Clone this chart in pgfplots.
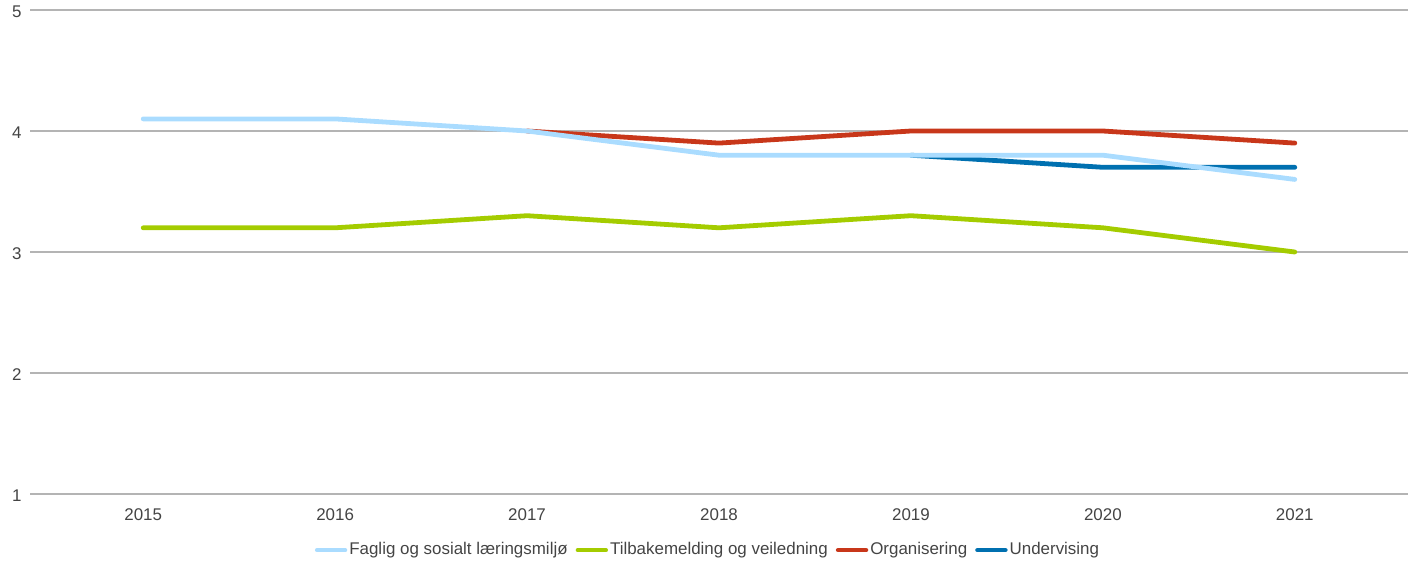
\documentclass[border=0pt]{standalone}
\usepackage{pgfplots}
\pgfplotsset{compat=1.18}
\usepackage{fontspec}
\setmainfont{Liberation Sans}

\definecolor{faglig}{HTML}{AADCFF}
\definecolor{tilbake}{HTML}{A4CC00}
\definecolor{organ}{HTML}{C8371A}
\definecolor{underv}{HTML}{0070B0}
\definecolor{gridgray}{HTML}{B4B4B4}
\definecolor{txt}{HTML}{444444}

\begin{document}
\begin{tikzpicture}
  \useasboundingbox (-15bp,-35.5bp) rectangle (692.5bp,247bp);
  \begin{axis}[
      scale only axis,
      width=689bp, height=242bp,
      at={(0,0)}, anchor=south west,
      xmin=-0.59, xmax=6.59,
      ymin=1, ymax=5,
      xtick={0,...,6},
      xticklabels={2015,2016,2017,2018,2019,2020,2021},
      ytick={1,2,3,4,5},
      axis line style={draw=none},
      major tick length=0pt,
      ymajorgrids,
      grid style={gridgray, line width=0.6bp},
      font=\fontsize{8.5}{10}\selectfont,
      tick label style={text=txt},
      /pgf/number format/assume math mode=true,
      yticklabel style={anchor=east, inner sep=0pt, xshift=-4bp, yshift=-0.8bp},
      xticklabel style={anchor=north, inner sep=0pt, yshift=-7.2bp},
      legend columns=4,
      legend style={at={(0.492,-0.116)}, anchor=center, draw=none, fill=none,
        font=\fontsize{8.5}{10}\selectfont, text=txt, inner sep=0pt,
        nodes={inner sep=1bp, anchor=west},
        /tikz/every even column/.append style={column sep=3bp}},
      legend image code/.code={\draw[#1, line width=2.2bp] (0bp,0bp) -- (14bp,0bp);},
      every axis plot/.append style={line width=2.4bp, line cap=round, line join=round},
    ]
    \addlegendimage{faglig}
    \addlegendentry{Faglig og sosialt læringsmiljø}
    \addlegendimage{tilbake}
    \addlegendentry{Tilbakemelding og veiledning}
    \addlegendimage{organ}
    \addlegendentry{Organisering}
    \addlegendimage{underv}
    \addlegendentry{Undervising}

    % Tilbakemelding og veiledning
    \addplot[tilbake, forget plot] coordinates {
      (0,3.2) (1,3.2) (2,3.3) (3,3.2) (4,3.3) (5,3.2) (6,3.0)
    };
    % Organisering
    \addplot[organ, forget plot] coordinates {
      (2,4.0) (3,3.9) (4,4.0) (5,4.0) (6,3.9)
    };
    % Undervising
    \addplot[underv, forget plot] coordinates {
      (4,3.8) (5,3.7) (6,3.7)
    };
    % Faglig og sosialt laeringsmiljoe (on top)
    \addplot[faglig, forget plot] coordinates {
      (0,4.1) (1,4.1) (2,4.0) (3,3.8) (4,3.8) (5,3.8) (6,3.6)
    };
  \end{axis}
\end{tikzpicture}
\end{document}
